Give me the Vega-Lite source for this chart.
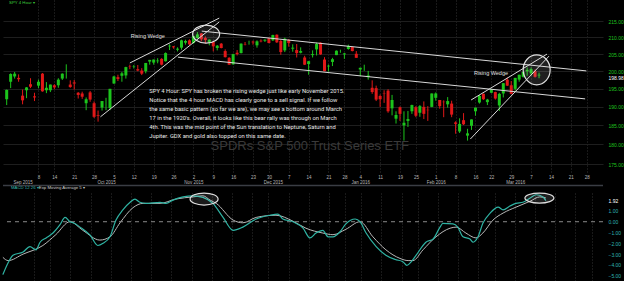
{
"$schema":"https://vega.github.io/schema/vega-lite/v6.json",
"background":"#000000",
"padding":0,
"bounds":"flush",
"spacing":21,
"config":{"view":{"stroke":null},"font":"Liberation Sans","axis":{"labelOverlap":false,"labelBound":false,"labelFlush":false}},
"datasets":{
"candles":[
{"i":-8,"o":192.1,"h":194.8,"l":190.5,"c":194.7},
{"i":-7,"o":197.0,"h":199.4,"l":195.2,"c":199.2},
{"i":-6,"o":198.5,"h":199.8,"l":197.9,"c":199.3},
{"i":-5,"o":198.1,"h":199.1,"l":197.0,"c":197.7},
{"i":-4,"o":193.1,"h":194.8,"l":190.7,"c":191.8},
{"i":-3,"o":194.6,"h":195.5,"l":192.4,"c":195.4},
{"i":-2,"o":196.3,"h":198.0,"l":195.2,"c":195.6},
{"i":-1,"o":192.9,"h":193.9,"l":191.6,"c":192.6},
{"i":0,"o":195.9,"h":197.6,"l":195.2,"c":197.0},
{"i":1,"o":199.3,"h":199.5,"l":194.2,"c":194.3},
{"i":2,"o":194.6,"h":196.9,"l":193.8,"c":195.3},
{"i":3,"o":194.6,"h":196.2,"l":194.1,"c":196.2},
{"i":4,"o":196.0,"h":196.3,"l":194.9,"c":195.4},
{"i":5,"o":196.0,"h":198.0,"l":195.3,"c":197.6},
{"i":6,"o":197.9,"h":199.4,"l":197.5,"c":199.3},
{"i":7,"o":198.9,"h":202.0,"l":197.9,"c":198.9},
{"i":8,"o":196.2,"h":197.4,"l":195.3,"c":195.5},
{"i":9,"o":196.8,"h":197.5,"l":194.8,"c":196.5},
{"i":10,"o":193.9,"h":194.1,"l":192.3,"c":193.3},
{"i":11,"o":193.7,"h":194.2,"l":192.2,"c":192.8},
{"i":12,"o":191.0,"h":192.6,"l":189.1,"c":192.1},
{"i":13,"o":194.0,"h":194.4,"l":191.4,"c":192.0},
{"i":14,"o":191.0,"h":191.5,"l":187.0,"c":187.3},
{"i":15,"o":187.8,"h":189.0,"l":186.0,"c":187.6},
{"i":16,"o":189.8,"h":191.6,"l":189.0,"c":191.6},
{"i":17,"o":192.1,"h":192.5,"l":189.1,"c":192.1},
{"i":18,"o":189.7,"h":195.0,"l":189.1,"c":195.0},
{"i":19,"o":196.5,"h":198.7,"l":196.4,"c":198.5},
{"i":20,"o":198.3,"h":199.0,"l":197.2,"c":197.8},
{"i":21,"o":198.7,"h":199.8,"l":197.0,"c":199.4},
{"i":22,"o":198.8,"h":201.3,"l":197.9,"c":201.2},
{"i":23,"o":201.4,"h":201.9,"l":200.6,"c":201.3},
{"i":24,"o":201.4,"h":201.8,"l":200.8,"c":201.5},
{"i":25,"o":200.6,"h":201.8,"l":200.0,"c":200.2},
{"i":26,"o":200.2,"h":200.9,"l":198.9,"c":199.3},
{"i":27,"o":200.0,"h":202.4,"l":199.4,"c":202.4},
{"i":28,"o":202.8,"h":203.3,"l":201.9,"c":203.3},
{"i":29,"o":202.5,"h":203.4,"l":201.9,"c":203.4},
{"i":30,"o":202.9,"h":203.8,"l":202.3,"c":203.1},
{"i":31,"o":203.6,"h":203.8,"l":201.7,"c":201.9},
{"i":32,"o":202.9,"h":205.5,"l":202.8,"c":205.3},
{"i":33,"o":207.3,"h":207.9,"l":206.2,"c":207.5},
{"i":34,"o":207.3,"h":207.4,"l":206.6,"c":207.0},
{"i":35,"o":206.3,"h":207.0,"l":205.8,"c":206.6},
{"i":36,"o":206.9,"h":209.3,"l":206.3,"c":209.1},
{"i":37,"o":208.4,"h":209.3,"l":207.8,"c":208.9},
{"i":38,"o":209.1,"h":209.4,"l":207.7,"c":207.9},
{"i":39,"o":208.3,"h":210.5,"l":208.1,"c":210.4},
{"i":40,"o":209.8,"h":211.6,"l":209.6,"c":210.9},
{"i":41,"o":211.2,"h":211.3,"l":208.8,"c":209.4},
{"i":42,"o":209.8,"h":210.3,"l":208.1,"c":209.2},
{"i":43,"o":208.5,"h":209.4,"l":207.6,"c":209.3},
{"i":44,"o":208.6,"h":208.8,"l":205.8,"c":207.3},
{"i":45,"o":206.8,"h":207.7,"l":206.1,"c":207.5},
{"i":46,"o":208.1,"h":208.3,"l":206.7,"c":206.8},
{"i":47,"o":205.9,"h":206.4,"l":204.0,"c":204.1},
{"i":48,"o":203.9,"h":204.1,"l":201.9,"c":201.9},
{"i":49,"o":202.0,"h":205.1,"l":201.9,"c":205.0},
{"i":50,"o":205.4,"h":206.2,"l":204.6,"c":205.0},
{"i":51,"o":205.3,"h":208.2,"l":205.2,"c":208.1},
{"i":52,"o":208.0,"h":208.6,"l":207.6,"c":207.9},
{"i":53,"o":208.7,"h":209.0,"l":207.8,"c":208.7},
{"i":54,"o":208.7,"h":209.0,"l":207.8,"c":208.5},
{"i":55,"o":207.6,"h":209.1,"l":206.9,"c":208.8},
{"i":56,"o":209.0,"h":209.4,"l":208.5,"c":208.8},
{"i":57,"o":209.0,"h":209.4,"l":208.6,"c":209.3},
{"i":58,"o":209.7,"h":209.9,"l":208.2,"c":208.3},
{"i":59,"o":209.1,"h":210.8,"l":208.9,"c":210.7},
{"i":60,"o":210.8,"h":210.9,"l":208.3,"c":208.5},
{"i":61,"o":208.9,"h":209.2,"l":204.8,"c":205.6},
{"i":62,"o":206.1,"h":209.9,"l":205.6,"c":209.6},
{"i":63,"o":209.2,"h":209.5,"l":207.2,"c":208.3},
{"i":64,"o":206.6,"h":207.9,"l":205.7,"c":206.9},
{"i":65,"o":206.2,"h":208.0,"l":204.0,"c":205.3},
{"i":66,"o":205.4,"h":207.0,"l":205.2,"c":205.9},
{"i":67,"o":204.0,"h":204.5,"l":201.8,"c":201.9},
{"i":68,"o":202.1,"h":203.0,"l":199.0,"c":202.9},
{"i":69,"o":204.7,"h":206.1,"l":204.0,"c":205.0},
{"i":70,"o":206.4,"h":208.4,"l":204.6,"c":208.0},
{"i":71,"o":208.4,"h":208.5,"l":204.8,"c":204.9},
{"i":72,"o":203.4,"h":204.1,"l":200.0,"c":200.0},
{"i":73,"o":201.4,"h":201.9,"l":199.9,"c":201.6},
{"i":74,"o":202.7,"h":203.9,"l":201.5,"c":203.5},
{"i":75,"o":204.7,"h":206.1,"l":204.7,"c":206.0},
{"i":76,"o":205.7,"h":206.3,"l":205.4,"c":205.7},
{"i":77,"o":204.9,"h":205.3,"l":203.6,"c":205.2},
{"i":78,"o":206.5,"h":207.8,"l":206.3,"c":207.4},
{"i":79,"o":207.1,"h":207.2,"l":205.8,"c":205.9},
{"i":80,"o":205.1,"h":205.9,"l":203.9,"c":203.9},
{"i":81,"o":200.5,"h":201.0,"l":198.6,"c":201.0},
{"i":82,"o":201.4,"h":201.9,"l":200.1,"c":201.4},
{"i":83,"o":198.3,"h":200.1,"l":197.6,"c":198.8},
{"i":84,"o":195.3,"h":197.4,"l":193.6,"c":194.1},
{"i":85,"o":195.2,"h":195.9,"l":191.6,"c":192.0},
{"i":86,"o":193.0,"h":193.4,"l":190.0,"c":192.1},
{"i":87,"o":193.8,"h":194.6,"l":191.1,"c":193.7},
{"i":88,"o":194.5,"h":194.9,"l":188.4,"c":188.8},
{"i":89,"o":189.6,"h":193.3,"l":187.7,"c":191.9},
{"i":90,"o":186.8,"h":188.8,"l":185.5,"c":187.8},
{"i":91,"o":189.9,"h":190.1,"l":186.2,"c":188.1},
{"i":92,"o":185.0,"h":188.8,"l":181.0,"c":185.7},
{"i":93,"o":186.2,"h":188.9,"l":184.6,"c":186.7},
{"i":94,"o":188.8,"h":190.6,"l":188.1,"c":190.5},
{"i":95,"o":189.9,"h":190.2,"l":187.2,"c":187.6},
{"i":96,"o":188.4,"h":190.5,"l":187.3,"c":190.2},
{"i":97,"o":190.0,"h":191.5,"l":186.7,"c":188.1},
{"i":98,"o":189.2,"h":190.2,"l":186.2,"c":189.1},
{"i":99,"o":190.0,"h":193.7,"l":189.9,"c":193.7},
{"i":100,"o":192.5,"h":194.0,"l":191.7,"c":193.7},
{"i":101,"o":191.9,"h":191.9,"l":189.5,"c":190.2},
{"i":102,"o":191.4,"h":191.8,"l":187.2,"c":191.3},
{"i":103,"o":190.7,"h":192.7,"l":189.8,"c":191.6},
{"i":104,"o":190.9,"h":191.7,"l":187.2,"c":187.9},
{"i":105,"o":185.8,"h":186.1,"l":182.8,"c":185.4},
{"i":106,"o":183.4,"h":186.9,"l":183.0,"c":185.4},
{"i":107,"o":186.4,"h":188.3,"l":185.1,"c":185.3},
{"i":108,"o":182.3,"h":184.1,"l":181.0,"c":182.9},
{"i":109,"o":184.9,"h":186.6,"l":183.8,"c":186.6},
{"i":110,"o":188.8,"h":189.8,"l":187.6,"c":189.8},
{"i":111,"o":191.2,"h":193.3,"l":190.9,"c":193.0},
{"i":112,"o":193.6,"h":193.7,"l":191.9,"c":192.1},
{"i":113,"o":191.3,"h":192.2,"l":190.5,"c":192.0},
{"i":114,"o":193.9,"h":194.9,"l":193.8,"c":194.8},
{"i":115,"o":194.1,"h":194.2,"l":192.0,"c":192.3},
{"i":116,"o":190.4,"h":193.9,"l":188.9,"c":193.6},
{"i":117,"o":193.7,"h":196.6,"l":192.6,"c":196.6},
{"i":118,"o":197.6,"h":198.2,"l":195.8,"c":195.9},
{"i":119,"o":196.0,"h":197.2,"l":193.5,"c":193.6},
{"i":120,"o":195.0,"h":198.1,"l":194.5,"c":198.1},
{"i":121,"o":197.6,"h":199.0,"l":197.0,"c":199.0},
{"i":122,"o":198.4,"h":199.9,"l":198.2,"c":199.8},
{"i":123,"o":200.0,"h":201.1,"l":198.7,"c":200.4},
{"i":124,"o":199.4,"h":201.1,"l":198.8,"c":200.6},
{"i":125,"o":200.0,"h":200.5,"l":198.2,"c":198.4},
{"i":126,"o":198.8,"h":199.6,"l":198.0,"c":199.0}
],
"macd":[
{"i":-7.7,"v":-4.9},{"i":-6.4,"v":-3.8},{"i":-5.2,"v":-3.1},{"i":-2.7,"v":-2.8},{"i":-1.0,"v":-2.3},{"i":0.5,"v":-2.6},{"i":1.5,"v":-1.9},{"i":3.0,"v":-1.5},{"i":4.7,"v":-1.05},{"i":6.4,"v":-0.3},{"i":7.7,"v":0.4},{"i":8.9,"v":0.0},{"i":9.7,"v":-0.1},{"i":11.4,"v":-0.5},{"i":13.9,"v":-1.25},{"i":15.8,"v":-2.2},{"i":17.1,"v":-2.0},{"i":18.8,"v":-1.4},{"i":20.3,"v":0.15},{"i":22.0,"v":1.1},{"i":23.8,"v":1.8},{"i":25.0,"v":2.1},{"i":26.2,"v":1.8},{"i":27.7,"v":1.7},{"i":31.2,"v":1.8},{"i":32.7,"v":1.7},{"i":34.4,"v":2.0},{"i":36.9,"v":2.3},{"i":39.4,"v":2.4},{"i":41.8,"v":2.25},{"i":44.3,"v":1.7},{"i":46.8,"v":0.4},{"i":49.3,"v":-0.8},{"i":51.7,"v":-0.5},{"i":55.0,"v":0.25},{"i":58.4,"v":0.6},{"i":60.4,"v":0.7},{"i":61.6,"v":0.25},{"i":64.1,"v":0.0},{"i":66.6,"v":-0.6},{"i":68.3,"v":-1.5},{"i":69.8,"v":-1.05},{"i":71.5,"v":-0.8},{"i":72.8,"v":-1.4},{"i":74.0,"v":-1.4},{"i":75.7,"v":-0.95},{"i":77.2,"v":-0.2},{"i":79.5,"v":0.25},{"i":80.7,"v":0.0},{"i":82.2,"v":-1.05},{"i":84.7,"v":-2.3},{"i":87.1,"v":-3.1},{"i":89.4,"v":-3.5},{"i":91.3,"v":-3.7},{"i":92.3,"v":-4.05},{"i":93.4,"v":-3.7},{"i":94.6,"v":-3.1},{"i":97.0,"v":-1.9},{"i":98.8,"v":-1.6},{"i":100.5,"v":-0.5},{"i":101.2,"v":-0.15},{"i":103.7,"v":-0.2},{"i":104.9,"v":-0.5},{"i":106.2,"v":-1.4},{"i":107.9,"v":-1.6},{"i":108.7,"v":-1.9},{"i":109.9,"v":-1.4},{"i":111.1,"v":-0.15},{"i":112.9,"v":0.8},{"i":114.9,"v":1.35},{"i":116.1,"v":1.1},{"i":117.8,"v":1.45},{"i":119.3,"v":1.7},{"i":121.0,"v":1.8},{"i":122.8,"v":2.2},{"i":124.3,"v":2.5},{"i":126.0,"v":2.3},{"i":126.7,"v":1.95}
],
"sig":[
{"i":-7.7,"v":-3.3},{"i":-6.4,"v":-3.6},{"i":-2.7,"v":-3.0},{"i":2.2,"v":-2.2},{"i":5.4,"v":-1.2},{"i":8.9,"v":0.0},{"i":12.1,"v":-0.8},{"i":16.3,"v":-1.7},{"i":18.8,"v":-1.4},{"i":21.3,"v":-0.1},{"i":24.5,"v":1.3},{"i":27.0,"v":1.7},{"i":31.2,"v":1.7},{"i":35.1,"v":2.1},{"i":39.4,"v":2.3},{"i":41.8,"v":2.4},{"i":43.6,"v":2.0},{"i":45.1,"v":1.7},{"i":49.3,"v":0.15},{"i":51.7,"v":-0.1},{"i":55.0,"v":0.4},{"i":59.9,"v":0.6},{"i":64.1,"v":0.05},{"i":67.3,"v":-0.6},{"i":71.5,"v":-1.05},{"i":74.0,"v":-1.2},{"i":77.2,"v":-0.7},{"i":80.7,"v":0.0},{"i":83.9,"v":-1.4},{"i":87.1,"v":-2.6},{"i":90.6,"v":-3.4},{"i":92.6,"v":-3.6},{"i":93.8,"v":-3.6},{"i":96.3,"v":-2.6},{"i":99.5,"v":-1.4},{"i":103.0,"v":-0.6},{"i":104.5,"v":-0.5},{"i":106.9,"v":-1.05},{"i":109.4,"v":-1.5},{"i":111.1,"v":-1.05},{"i":113.6,"v":0.15},{"i":116.1,"v":0.8},{"i":119.3,"v":1.35},{"i":122.8,"v":1.9},{"i":125.2,"v":2.3},{"i":126.7,"v":2.2}
],
"lines":[
{"seg":"a","i":23.0,"p":202.4},{"seg":"a","i":45.5,"p":215.9},
{"seg":"b","i":15.6,"p":187.3},{"seg":"b","i":45.5,"p":214.7},
{"seg":"c","i":41.1,"p":211.9},{"seg":"c","i":137.9,"p":200.1},
{"seg":"d","i":35.1,"p":204.1},{"seg":"d","i":137.6,"p":192.2},
{"seg":"e","i":108.9,"p":191.9},{"seg":"e","i":128.0,"p":205.0},
{"seg":"f","i":108.7,"p":181.4},{"seg":"f","i":128.5,"p":204.4}
]
},
"vconcat":[
{
"width":600,"height":172,
"layer":[
{"data":{"values":[{"i":68.3,"p":179.6,"t":"SPDRs S&P 500 Trust Series ETF"}]},
 "mark":{"type":"text","align":"center","baseline":"middle","fontSize":13,"color":"#3a3a3a"},
 "encoding":{
  "x":{"field":"i","type":"quantitative","title":null,"scale":{"domain":[-7.67,140.84],"nice":false,"zero":false},
   "axis":{"values":[-4,0,4,9,14,17,19,24,29,34,39,44,49,54,58,59,63,68,73,77,81,86,91,95,100,105,110,114,119,120,124,129,134,138],"tickCount":200,
    "labelExpr":"[['','Sep 2015'],'8','14','21','28',['','Oct 2015'],'5','12','19','26',['2','Nov 2015'],'9','16','23','30',['','Dec 2015'],'7','14','21','28',['4','Jan 2016'],'11','19','25',['1','Feb 2016'],'8','16','22','29',['','Mar 2016'],'7','14','21','28'][indexof([-4,0,4,9,14,17,19,24,29,34,39,44,49,54,58,59,63,68,73,77,81,86,91,95,100,105,110,114,119,120,124,129,134,138], datum.value)]",
    "labelFontSize":4.5,"labelColor":"#b8b8b8","labelPadding":2,"labelLineHeight":5.5,"ticks":false,"domain":false,"grid":true,"gridColor":"#333333","gridDash":[1,2],
    "gridOpacity":{"condition":{"test":"indexof([-4,17,59,120], datum.value) >= 0","value":0},"value":1},
    "labelOverlap":false,"labelBound":false,"labelFlush":false}},
  "y":{"field":"p","type":"quantitative","title":null,"scale":{"type":"log","domain":[173,221.6],"nice":false,"zero":false},
   "axis":{"orient":"right","values":[175,180,185,190,195,200,205,210,215,198.98],"tickCount":200,"format":".2f","labelFontSize":5,
    "labelColor":{"condition":{"test":"datum.value == 198.98","value":"#ffffff"},"value":"#1fc41f"},
    "labelOffset":{"condition":{"test":"datum.value == 198.98","value":2.5},"value":0},
    "labelPadding":5,"ticks":false,"domain":false,"grid":true,"gridColor":"#1e1e1e",
    "gridOpacity":{"condition":{"test":"datum.value == 198.98","value":0},"value":1},
    "labelOverlap":false,"labelBound":false,"labelFlush":false}},
  "text":{"field":"t"}}},
{"data":{"name":"candles"},
 "mark":{"type":"rule","strokeWidth":1,"clip":true},
 "encoding":{
  "x":{"field":"i","type":"quantitative","title":null,"scale":{"domain":[-7.67,140.84],"nice":false,"zero":false}},
  "y":{"field":"l","type":"quantitative","title":null,"scale":{"type":"log","domain":[173,221.6],"nice":false,"zero":false}},
  "y2":{"field":"h"},
  "color":{"condition":{"test":"datum.c >= datum.o","value":"#1cc41c"},"value":"#e01818"}}},
{"data":{"name":"candles"},
 "mark":{"type":"bar","size":3,"clip":true},
 "encoding":{
  "x":{"field":"i","type":"quantitative","title":null,"scale":{"domain":[-7.67,140.84],"nice":false,"zero":false}},
  "y":{"field":"o","type":"quantitative","title":null,"scale":{"type":"log","domain":[173,221.6],"nice":false,"zero":false}},
  "y2":{"field":"c"},
  "color":{"condition":{"test":"datum.c >= datum.o","value":"#1cc41c"},"value":"#e01818"}}},
{"data":{"name":"lines"},
 "mark":{"type":"line","color":"#d8d8d8","strokeWidth":1},
 "encoding":{
  "x":{"field":"i","type":"quantitative","title":null,"scale":{"domain":[-7.67,140.84],"nice":false,"zero":false}},
  "y":{"field":"p","type":"quantitative","title":null,"scale":{"type":"log","domain":[173,221.6],"nice":false,"zero":false}},
  "detail":{"field":"seg"}}},
{"data":{"values":[{"i":42.2,"p":211.0}]},
 "mark":{"type":"point","shape":"M-1,0A1,0.667,0,1,1,1,0A1,0.667,0,1,1,-1,0Z","size":729,"filled":true,"fill":"#ffffff","fillOpacity":0.1,"stroke":"#e0e0e0","strokeWidth":1.2,"opacity":1},
 "encoding":{
  "x":{"field":"i","type":"quantitative","title":null,"scale":{"domain":[-7.67,140.84],"nice":false,"zero":false}},
  "y":{"field":"p","type":"quantitative","title":null,"scale":{"type":"log","domain":[173,221.6],"nice":false,"zero":false}}}},
{"data":{"values":[{"i":125.4,"p":200.4}]},
 "mark":{"type":"point","shape":"M-0.9,0A0.9,1,0,1,1,0.9,0A0.9,1,0,1,1,-0.9,0Z","size":900,"filled":true,"fill":"#ffffff","fillOpacity":0.12,"stroke":"#e0e0e0","strokeWidth":1.2,"opacity":1},
 "encoding":{
  "x":{"field":"i","type":"quantitative","title":null,"scale":{"domain":[-7.67,140.84],"nice":false,"zero":false}},
  "y":{"field":"p","type":"quantitative","title":null,"scale":{"type":"log","domain":[173,221.6],"nice":false,"zero":false}}}},
{"data":{"values":[{"i":27.5,"p":210.4,"t":"Rising Wedge"},{"i":113.9,"p":199.4,"t":"Rising Wedge"}]},
 "mark":{"type":"text","align":"center","baseline":"middle","fontSize":5.5,"color":"#e0e0e0"},
 "encoding":{
  "x":{"field":"i","type":"quantitative","title":null,"scale":{"domain":[-7.67,140.84],"nice":false,"zero":false}},
  "y":{"field":"p","type":"quantitative","title":null,"scale":{"type":"log","domain":[173,221.6],"nice":false,"zero":false}},
  "text":{"field":"t"}}},
{"data":{"values":[{"i":-7.4,"p":221.2,"t":"SPY 4 Hour ▾"}]},
 "mark":{"type":"text","align":"left","baseline":"top","fontSize":4.3,"color":"#3ccf3c"},
 "encoding":{
  "x":{"field":"i","type":"quantitative","title":null,"scale":{"domain":[-7.67,140.84],"nice":false,"zero":false}},
  "y":{"field":"p","type":"quantitative","title":null,"scale":{"type":"log","domain":[173,221.6],"nice":false,"zero":false}},
  "text":{"field":"t"}}},
{"data":{"values":[{"i":27.9,"p":195.2,"t":"SPY 4 Hour: SPY has broken the rising wedge just like early November 2015.\nNotice that the 4 hour MACD has clearly gone to a sell signal.  If we follow\nthe same basic pattern (so far we are), we may see a bottom around March\n17 in the 1920's. Overall, it looks like this bear rally was through on March\n4th.  This was the mid point of the Sun translation to Neptune, Saturn and\nJupiter.  GDX and gold also topped on this same date."}]},
 "mark":{"type":"text","align":"left","baseline":"top","fontSize":5.8,"lineHeight":9,"lineBreak":"\n","font":"Roboto","color":"#e8e8e8"},
 "encoding":{
  "x":{"field":"i","type":"quantitative","title":null,"scale":{"domain":[-7.67,140.84],"nice":false,"zero":false}},
  "y":{"field":"p","type":"quantitative","title":null,"scale":{"type":"log","domain":[173,221.6],"nice":false,"zero":false}},
  "text":{"field":"t"}}}
]
},
{
"width":600,"height":88,
"layer":[
{"data":{"name":"sig"},
 "mark":{"type":"line","color":"#b8b8b8","strokeWidth":1,"interpolate":"monotone"},
 "encoding":{
  "x":{"field":"i","type":"quantitative","title":null,"scale":{"domain":[-7.67,140.84],"nice":false,"zero":false},
   "axis":{"values":[0,4,9,14,19,24,29,34,39,44,49,54,58,63,68,73,77,81,86,91,95,100,105,110,114,119,124,129,134,138],"tickCount":200,"labels":false,"ticks":false,"domain":false,"grid":true,"gridColor":"#333333","gridDash":[1,2]}},
  "y":{"field":"v","type":"quantitative","title":null,"scale":{"domain":[-5.49,2.66],"nice":false,"zero":false},
   "axis":{"orient":"right","values":[-5,-4,-3,-2,-1,0,1,1.92],"tickCount":200,"format":".2f","labelFontSize":5,
    "labelColor":{"condition":{"test":"datum.value == 1.92","value":"#ffffff"},"value":"#2fb5b0"},
    "labelPadding":5,"ticks":false,"domain":false,"grid":false,"labelOverlap":false,"labelBound":false,"labelFlush":false}}}},
{"data":{"values":[{"v":0}]},
 "mark":{"type":"rule","color":"#8a8a8a","strokeWidth":1,"strokeDash":[4,4]},
 "encoding":{
  "y":{"field":"v","type":"quantitative","title":null,"scale":{"domain":[-5.49,2.66],"nice":false,"zero":false}}}},
{"data":{"values":[{"v":3.35}]},
 "mark":{"type":"rule","color":"#3a3d44","strokeWidth":1.5},
 "encoding":{
  "y":{"field":"v","type":"quantitative","title":null,"scale":{"domain":[-5.49,2.66],"nice":false,"zero":false}}}},
{"data":{"name":"macd"},
 "mark":{"type":"line","color":"#2fb3a3","strokeWidth":1.2,"interpolate":"monotone"},
 "encoding":{
  "x":{"field":"i","type":"quantitative","title":null,"scale":{"domain":[-7.67,140.84],"nice":false,"zero":false}},
  "y":{"field":"v","type":"quantitative","title":null,"scale":{"domain":[-5.49,2.66],"nice":false,"zero":false}}}},
{"data":{"values":[{"i":42.1,"v":2.1}]},
 "mark":{"type":"point","shape":"M-1,0A1,0.43,0,1,1,1,0A1,0.43,0,1,1,-1,0Z","size":784,"filled":true,"fill":"#ffffff","fillOpacity":0.1,"stroke":"#e0e0e0","strokeWidth":1.2,"opacity":1},
 "encoding":{
  "x":{"field":"i","type":"quantitative","title":null,"scale":{"domain":[-7.67,140.84],"nice":false,"zero":false}},
  "y":{"field":"v","type":"quantitative","title":null,"scale":{"domain":[-5.49,2.66],"nice":false,"zero":false}}}},
{"data":{"values":[{"i":125.1,"v":2.19}]},
 "mark":{"type":"point","shape":"M-1,0A1,0.345,0,1,1,1,0A1,0.345,0,1,1,-1,0Z","size":841,"filled":true,"fill":"#ffffff","fillOpacity":0.12,"stroke":"#e0e0e0","strokeWidth":1.2,"opacity":1},
 "encoding":{
  "x":{"field":"i","type":"quantitative","title":null,"scale":{"domain":[-7.67,140.84],"nice":false,"zero":false}},
  "y":{"field":"v","type":"quantitative","title":null,"scale":{"domain":[-5.49,2.66],"nice":false,"zero":false}}}},
{"data":{"values":[{"i":-5.7,"v":3.08,"t":"MACD 12 26 ▾"}]},
 "mark":{"type":"text","align":"left","baseline":"middle","fontSize":4.3,"color":"#35b9ad"},
 "encoding":{
  "x":{"field":"i","type":"quantitative","title":null,"scale":{"domain":[-7.67,140.84],"nice":false,"zero":false}},
  "y":{"field":"v","type":"quantitative","title":null,"scale":{"domain":[-5.49,2.66],"nice":false,"zero":false}},
  "text":{"field":"t"}}},
{"data":{"values":[{"i":1.2,"v":3.08,"t":"Exp Moving Average 5 ▾"}]},
 "mark":{"type":"text","align":"left","baseline":"middle","fontSize":4.3,"color":"#cfcfcf"},
 "encoding":{
  "x":{"field":"i","type":"quantitative","title":null,"scale":{"domain":[-7.67,140.84],"nice":false,"zero":false}},
  "y":{"field":"v","type":"quantitative","title":null,"scale":{"domain":[-5.49,2.66],"nice":false,"zero":false}},
  "text":{"field":"t"}}}
]
}
]
}
